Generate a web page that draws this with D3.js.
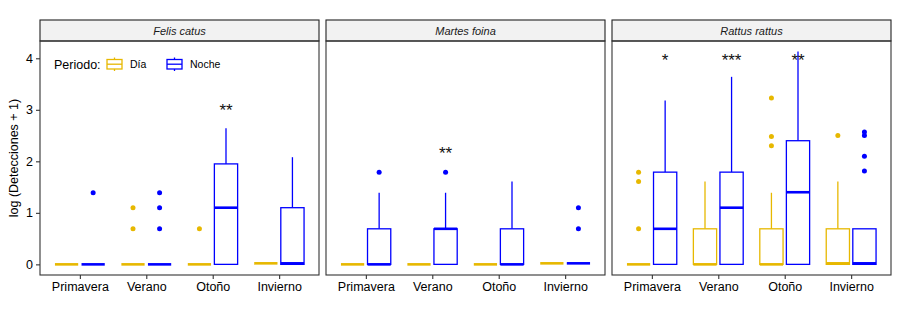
<!DOCTYPE html>
<html><head><meta charset="utf-8">
<script src="https://cdn.jsdelivr.net/npm/d3@7"></script>
<style>body{margin:0;background:#fff}svg{display:block}text{font-family:"Liberation Sans",Arial,sans-serif}</style>
</head><body><div id="chart"></div>
<script>
const species = ["Felis catus", "Martes foina", "Rattus rattus"];
const seasons = ["Primavera", "Verano", "Otoño", "Invierno"];
const periods = ["Día", "Noche"];
const periodColors = ["#E7B800", "#0000FF"];
const yTicks = [0, 1, 2, 3, 4];

// box stats [lowWhisker, q1, median, q3, highWhisker] per season, per period [Día, Noche]
const felisStats = [
  [[0,0,0,0,0],[0,0,0,0,0]],
  [[0,0,0,0,0],[0,0,0,0,0]],
  [[0,0,0,0,0],[0,0,1.10,1.95,2.64]],
  [[0.02,0.02,0.02,0.02,0.02],[0,0,0.02,1.10,2.08]]
];
const martesStats = [
  [[0,0,0,0,0],[0,0,0,0.69,1.39]],
  [[0,0,0,0,0],[0,0,0.69,0.69,1.39]],
  [[0,0,0,0,0],[0,0,0,0.69,1.61]],
  [[0.02,0.02,0.02,0.02,0.02],[0.02,0.02,0.02,0.02,0.02]]
];
const rattusStats = [
  [[0,0,0,0,0],[0,0,0.69,1.79,3.18]],
  [[0,0,0,0.69,1.61],[0,0,1.10,1.79,3.64]],
  [[0,0,0,0.69,1.39],[0,0,1.40,2.40,4.13]],
  [[0,0,0.02,0.69,1.61],[0,0,0.02,0.69,0.69]]
];
// outliers per season, per period
const felisOutliers = [
  [[],[1.39]],
  [[1.10,0.69],[1.39,1.10,0.69]],
  [[0.69],[]],
  [[],[]]
];
const martesOutliers = [
  [[],[1.79]],
  [[],[1.79]],
  [[],[]],
  [[],[1.10,0.69]]
];
const rattusOutliers = [
  [[1.79,1.61,0.69],[]],
  [[],[]],
  [[3.23,2.48,2.30],[]],
  [[2.50],[2.57,2.50,2.10,1.81]]
];
// significance labels: species index, season index, label, y value
const sigSpecies = [0, 1, 2, 2, 2];
const sigSeason = [2, 1, 0, 1, 2];
const sigLabels = ["**", "**", "*", "***", "**"];
const sigY = [3.06, 2.23, 4.03, 4.03, 4.03];

const allStats = [felisStats, martesStats, rattusStats];
const allOutliers = [felisOutliers, martesOutliers, rattusOutliers];

const W = 900, H = 328;
const svg = d3.select("#chart").append("svg").attr("width", W).attr("height", H);

const panelX = [[40, 319], [326, 605], [612, 891]];
const stripTop = 20, panelTop = 41, panelBottom = 275;
const y = d3.scaleLinear().domain([-0.2065, 4.3355]).range([panelBottom, panelTop]);

species.forEach((sp, si) => {
  const [x0, x1] = panelX[si];
  const x = d3.scalePoint().domain(seasons).range([x0, x1]).padding(0.6);
  const step = x.step();
  const g = svg.append("g");

  // strip
  g.append("rect").attr("x", x0).attr("y", stripTop).attr("width", x1 - x0).attr("height", panelTop - stripTop)
    .attr("fill", "#F2F2F2").attr("stroke", "#222").attr("stroke-width", 1.1);
  g.append("text").attr("x", (x0 + x1) / 2).attr("y", 34.5).attr("text-anchor", "middle")
    .attr("font-size", 11).attr("font-style", "italic").attr("fill", "#1a1a1a").text(sp);

  // boxes
  seasons.forEach((se, ci) => {
    periods.forEach((p, pi) => {
      const cx = x(se) + (pi === 0 ? -0.2 : 0.2) * step;
      const bw = 0.35 * step;
      const s = allStats[si][ci][pi];
      const col = periodColors[pi];
      // whiskers
      g.append("line").attr("x1", cx).attr("x2", cx).attr("y1", y(s[3])).attr("y2", y(s[4]))
        .attr("stroke", col).attr("stroke-width", 1.3);
      g.append("line").attr("x1", cx).attr("x2", cx).attr("y1", y(s[1])).attr("y2", y(s[0]))
        .attr("stroke", col).attr("stroke-width", 1.3);
      g.append("rect").attr("x", cx - bw / 2).attr("width", bw)
        .attr("y", y(s[3])).attr("height", Math.max(0, y(s[1]) - y(s[3])))
        .attr("fill", "#fff").attr("stroke", col).attr("stroke-width", 1.3);
      g.append("line").attr("x1", cx - bw / 2).attr("x2", cx + bw / 2).attr("y1", y(s[2])).attr("y2", y(s[2]))
        .attr("stroke", col).attr("stroke-width", 2.6);
      allOutliers[si][ci][pi].forEach(v => {
        g.append("circle").attr("cx", cx).attr("cy", y(v)).attr("r", 2.5).attr("fill", col);
      });
    });
  });

  // significance
  sigLabels.forEach((lab, k) => {
    if (sigSpecies[k] !== si) return;
    const cx = x(seasons[sigSeason[k]]) + 0.2 * step;
    g.append("text").attr("x", cx).attr("y", y(sigY[k]) + 9.5).attr("text-anchor", "middle")
      .attr("font-size", 17).attr("fill", "#111").text(lab);
  });

  // panel border
  g.append("rect").attr("x", x0).attr("y", panelTop).attr("width", x1 - x0).attr("height", panelBottom - panelTop)
    .attr("fill", "none").attr("stroke", "#333").attr("stroke-width", 1.1);

  // x axis
  const xa = svg.append("g").attr("transform", `translate(0,${panelBottom})`)
    .call(d3.axisBottom(x).tickSize(4).tickPadding(3));
  xa.select(".domain").remove();
  xa.selectAll(".tick line").attr("stroke", "#333").attr("stroke-width", 1.1);
  xa.selectAll(".tick text").attr("font-size", 12.5).attr("fill", "#000")
    .attr("font-family", '"Liberation Sans",Arial,sans-serif');

  if (si === 0) {
    const ya = svg.append("g").attr("transform", `translate(${x0},0)`)
      .call(d3.axisLeft(y).tickValues(yTicks).tickFormat(d3.format("d")).tickSize(4).tickPadding(3));
    ya.select(".domain").remove();
    ya.selectAll(".tick line").attr("stroke", "#333").attr("stroke-width", 1.1);
    ya.selectAll(".tick text").attr("font-size", 12.5).attr("fill", "#000")
      .attr("font-family", '"Liberation Sans",Arial,sans-serif');

    // legend
    const lg = svg.append("g");
    lg.append("text").attr("x", 54).attr("y", 68.5).attr("font-size", 12.5).attr("fill", "#000").text("Periodo:");
    const keyX = [107, 167], textX = [130, 190];
    periods.forEach((p, pi) => {
      const kx = keyX[pi], col = periodColors[pi];
      const cx = kx + 7.5;
      lg.append("line").attr("x1", cx).attr("x2", cx).attr("y1", 57.5).attr("y2", 71).attr("stroke", col).attr("stroke-width", 1.3);
      lg.append("rect").attr("x", kx).attr("y", 59.5).attr("width", 15).attr("height", 9.5)
        .attr("fill", "#fff").attr("stroke", col).attr("stroke-width", 1.3);
      lg.append("line").attr("x1", kx).attr("x2", kx + 15).attr("y1", 64.2).attr("y2", 64.2).attr("stroke", col).attr("stroke-width", 1.3);
      lg.append("text").attr("x", textX[pi]).attr("y", 68).attr("font-size", 10.5).attr("fill", "#000").text(p);
    });
  }
});

// y axis title
svg.append("text").attr("transform", `translate(18,${(panelTop + panelBottom) / 2}) rotate(-90)`)
  .attr("text-anchor", "middle").attr("font-size", 12.5).attr("fill", "#000").text("log (Detecciones + 1)");
</script></body></html>
